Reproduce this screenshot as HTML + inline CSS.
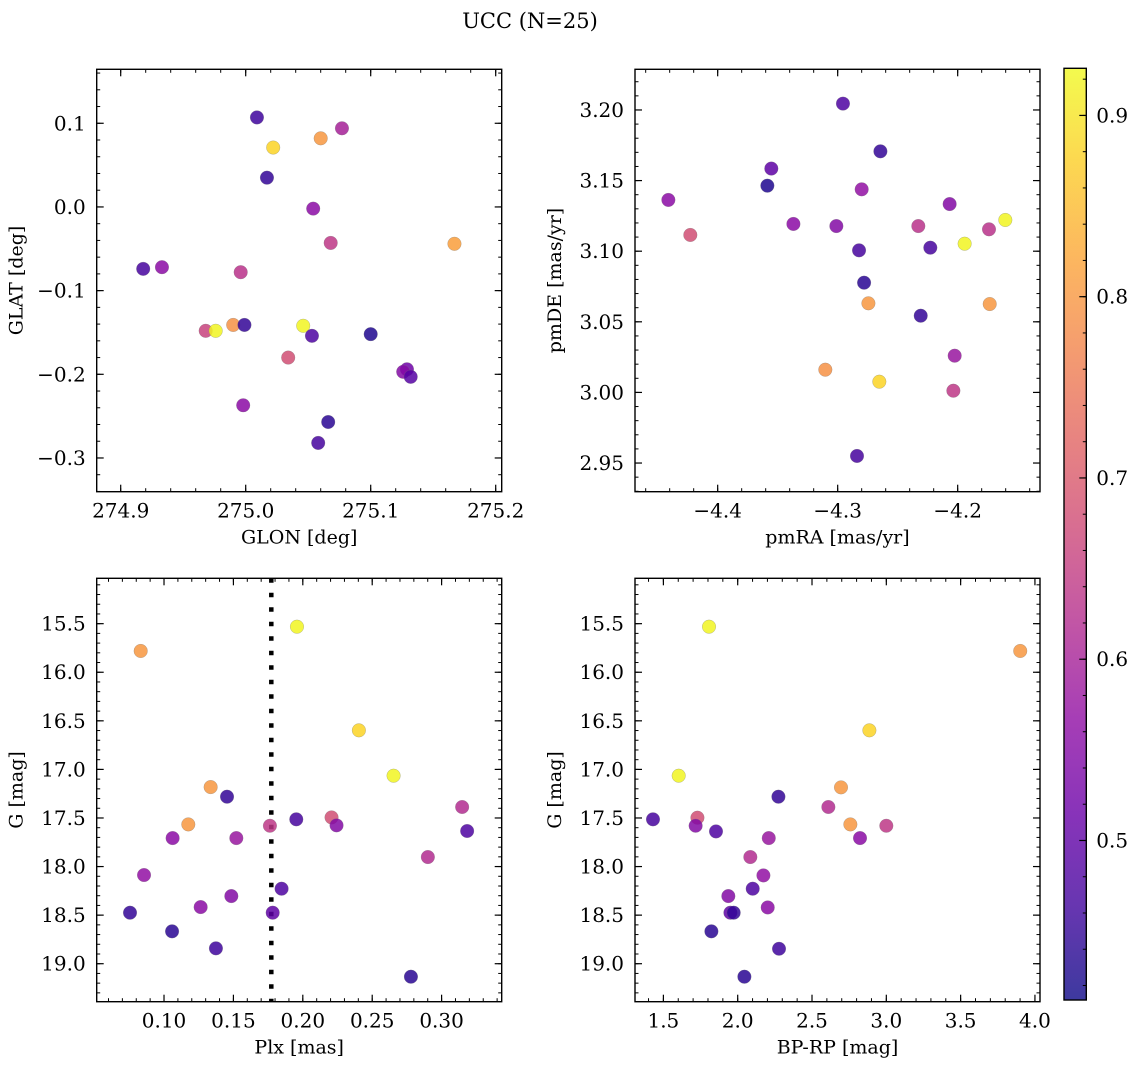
<!DOCTYPE html>
<html><head><meta charset="utf-8">
<style>
html,body{margin:0;padding:0;background:#fff;}
svg text{font-family:"DejaVu Serif","Liberation Serif",serif;fill:#000;}
</style></head>
<body>
<svg id="fig" xmlns="http://www.w3.org/2000/svg" width="1136" height="1068" viewBox="0 0 1136 1068">
<defs>
<linearGradient id="cbgrad" x1="0" y1="1" x2="0" y2="0"></linearGradient>
</defs>
<text x="530" y="28" text-anchor="middle" font-size="21">UCC (N=25)</text>
</svg>
<script>
// ---- data: panel 1 (GLON vs GLAT)
const glon = [275.009,275.022,275.060,275.077,275.017,275.054,275.068,275.167,274.918,274.933,274.996,274.968,274.976,274.990,274.999,275.046,275.053,275.100,275.034,275.129,275.126,275.132,274.998,275.066,275.058];
const glat = [0.107,0.071,0.082,0.094,0.035,-0.002,-0.043,-0.044,-0.074,-0.072,-0.078,-0.148,-0.148,-0.141,-0.141,-0.142,-0.154,-0.152,-0.180,-0.194,-0.197,-0.203,-0.237,-0.257,-0.282];
const prob1 = [0.46,0.88,0.80,0.60,0.45,0.56,0.64,0.81,0.47,0.56,0.63,0.66,0.92,0.79,0.45,0.92,0.48,0.43,0.68,0.52,0.55,0.49,0.56,0.44,0.47];
// ---- data: panel 2 (pmRA vs pmDE)
const pmra = [-4.2956,-4.2644,-4.3553,-4.3586,-4.4411,-4.4228,-4.3369,-4.3011,-4.2800,-4.2822,-4.2780,-4.2744,-4.2067,-4.2328,-4.2228,-4.1942,-4.1739,-4.1603,-4.1733,-4.2308,-4.3103,-4.2653,-4.2025,-4.2036,-4.2839];
const pmde = [3.2045,3.1707,3.1585,3.1464,3.1363,3.1115,3.1193,3.1178,3.1438,3.1006,3.0777,3.0631,3.1334,3.1178,3.1025,3.1053,3.1155,3.1221,3.0626,3.0543,3.0161,3.0076,3.0260,3.0012,2.9550];
const prob2 = [0.48,0.45,0.50,0.43,0.56,0.68,0.56,0.55,0.57,0.47,0.44,0.80,0.55,0.63,0.47,0.92,0.63,0.92,0.80,0.45,0.79,0.88,0.58,0.64,0.47];
// ---- data: panel 3 (Plx vs G)
const plx = [0.0832,0.1958,0.2404,0.2654,0.1336,0.1454,0.1175,0.1062,0.1521,0.1763,0.1953,0.2207,0.2243,0.3148,0.3184,0.2901,0.0856,0.1847,0.1485,0.1264,0.0755,0.1783,0.1058,0.1374,0.2779];
const gmag3 = [15.781,15.531,16.598,17.065,17.182,17.281,17.566,17.707,17.707,17.580,17.514,17.494,17.576,17.387,17.634,17.902,18.087,18.228,18.304,18.417,18.475,18.475,18.667,18.842,19.134];
const prob3 = [0.80,0.92,0.88,0.92,0.80,0.45,0.80,0.56,0.58,0.64,0.47,0.68,0.55,0.62,0.48,0.62,0.57,0.48,0.55,0.56,0.45,0.50,0.44,0.46,0.44];
const plxCut = [0.1773];
// ---- data: panel 4 (BP-RP vs G)
const bprp = [1.807,3.901,2.886,1.603,2.695,2.274,2.610,1.430,1.729,1.717,1.854,2.758,3.000,2.823,2.209,2.085,2.173,2.101,1.937,2.202,1.951,1.973,1.823,2.278,2.045];
const gmag4 = [15.531,15.781,16.598,17.065,17.185,17.281,17.387,17.514,17.497,17.580,17.638,17.566,17.580,17.707,17.707,17.902,18.091,18.228,18.304,18.421,18.475,18.475,18.667,18.846,19.134];
const prob4 = [0.92,0.80,0.88,0.92,0.80,0.45,0.62,0.47,0.68,0.55,0.48,0.80,0.64,0.56,0.58,0.62,0.57,0.48,0.55,0.56,0.50,0.45,0.44,0.46,0.44];
// ---- tick labels
const ticks1x = [274.9,275.0,275.1,275.2], ticks1xLab = ["274.9","275.0","275.1","275.2"];
const ticks1y = [0.1,0.0,-0.1,-0.2,-0.3], ticks1yLab = ["0.1","0.0","\u22120.1","\u22120.2","\u22120.3"];
const ticks2x = [-4.4,-4.3,-4.2], ticks2xLab = ["\u22124.4","\u22124.3","\u22124.2"];
const ticks2y = [3.20,3.15,3.10,3.05,3.00,2.95], ticks2yLab = ["3.20","3.15","3.10","3.05","3.00","2.95"];
const ticks3x = [0.10,0.15,0.20,0.25,0.30], ticks3xLab = ["0.10","0.15","0.20","0.25","0.30"];
const ticksGy = [15.5,16.0,16.5,17.0,17.5,18.0,18.5,19.0], ticksGyLab = ["15.5","16.0","16.5","17.0","17.5","18.0","18.5","19.0"];
const ticks4x = [1.5,2.0,2.5,3.0,3.5,4.0], ticks4xLab = ["1.5","2.0","2.5","3.0","3.5","4.0"];
const cbTicks = [0.5,0.6,0.7,0.8,0.9], cbTickLab = ["0.5","0.6","0.7","0.8","0.9"];
const cbRange = [0.412,0.926];

const NS = "http://www.w3.org/2000/svg";
const svg = document.getElementById('fig');
const plasma = ["#0d0887","#41049d","#6a00a8","#8f0da4","#b12a90","#cc4778","#e16462","#f2844b","#fca636","#fcce25","#f0f921"];
function hex(c){return [parseInt(c.substr(1,2),16),parseInt(c.substr(3,2),16),parseInt(c.substr(5,2),16)];}
function cmap(t){t=Math.max(0,Math.min(1,t));const f=t*10;const i=Math.min(9,Math.floor(f));const u=f-i;const a=hex(plasma[i]),b=hex(plasma[i+1]);
  return "rgb("+a.map((v,k)=>Math.round(v+(b[k]-v)*u)).join(",")+")";}
function colorOf(p){return cmap((p-cbRange[0])/(cbRange[1]-cbRange[0]));}
function mk(tag,attrs,parent){const e=document.createElementNS(NS,tag);for(const k in attrs)e.setAttribute(k,attrs[k]);(parent||svg).appendChild(e);return e;}

const TICKFS = 20, LABFS = 19;
function panel(o){
  const g=mk('g',{});
  
  
  const L=o.box[0],T=o.box[1],R=o.box[2],B=o.box[3];
  const sx=v=>L+(v-o.xr[0])/(o.xr[1]-o.xr[0])*(R-L);
  const sy=o.yinv? (v=>T+(v-o.yr[0])/(o.yr[1]-o.yr[0])*(B-T)) : (v=>B-(v-o.yr[0])/(o.yr[1]-o.yr[0])*(B-T));
  const eps=1e-9;
  function range(a,b,step){const out=[];let s=Math.ceil((Math.min(a,b)-eps)/step);for(let v=s*step;v<=Math.max(a,b)+eps;v=(++s)*step)out.push(v);return out;}
  range(o.xr[0],o.xr[1],o.xminor).forEach(v=>{const x=sx(v);
    mk('line',{x1:x,y1:B,x2:x,y2:B-3.5,stroke:'#000','stroke-width':1},g);
    mk('line',{x1:x,y1:T,x2:x,y2:T+3.5,stroke:'#000','stroke-width':1},g);});
  range(o.yr[0],o.yr[1],o.yminor).forEach(v=>{const y=sy(v);
    mk('line',{x1:L,y1:y,x2:L+3.5,y2:y,stroke:'#000','stroke-width':1},g);
    mk('line',{x1:R,y1:y,x2:R-3.5,y2:y,stroke:'#000','stroke-width':1},g);});
  o.xt.forEach((v,i)=>{const x=sx(v);
    mk('line',{x1:x,y1:B,x2:x,y2:B-7,stroke:'#000','stroke-width':1.2},g);
    mk('line',{x1:x,y1:T,x2:x,y2:T+7,stroke:'#000','stroke-width':1.2},g);
    const t=mk('text',{x:x,y:B+26,'text-anchor':'middle','font-size':TICKFS},g);t.textContent=o.xl[i];
    
    });
  o.yt.forEach((v,i)=>{const y=sy(v);
    mk('line',{x1:L,y1:y,x2:L+7,y2:y,stroke:'#000','stroke-width':1.2},g);
    mk('line',{x1:R,y1:y,x2:R-7,y2:y,stroke:'#000','stroke-width':1.2},g);
    const t=mk('text',{x:L-11,y:y+7,'text-anchor':'end','font-size':TICKFS},g);t.textContent=o.yl[i];
    
    });
  if(o.vline){o.vline.forEach(v=>{const x=sx(v);
    const ln=mk('line',{x1:x,y1:T,x2:x,y2:B,stroke:'#000','stroke-width':4.5,'stroke-dasharray':'4.5,10'},g);
    
    });}
  o.xs.forEach((v,i)=>{
    const c=mk('circle',{cx:sx(v),cy:sy(o.ys[i]),r:6.8,fill:colorOf(o.cs[i]),'fill-opacity':0.85,stroke:'#777','stroke-opacity':0.5,'stroke-width':0.5},g);
    
    });
  const fr=mk('rect',{x:L,y:T,width:R-L,height:B-T,fill:'none',stroke:'#000','stroke-width':1.4},g);
  
  
  const xlab=mk('text',{x:(L+R)/2,y:B+52,'text-anchor':'middle','font-size':LABFS},g);xlab.textContent=o.xlabel;
  
  
  const yx=L-74,yy=(T+B)/2;
  const ylab=mk('text',{x:yx,y:yy,'text-anchor':'middle','font-size':LABFS,transform:'rotate(-90 '+yx+' '+yy+')'},g);ylab.textContent=o.ylabel;
  
  
}

panel({name:'glon-glat-panel',box:[96.7,69.3,501.7,491.7],xr:[274.8808,275.2048],yr:[-0.3403,0.1645],xt:ticks1x,xl:ticks1xLab,yt:ticks1y,yl:ticks1yLab,xminor:0.02,yminor:0.02,xs:glon,ys:glat,cs:prob1,xlabel:'GLON [deg]',ylabel:'GLAT [deg]'});
panel({name:'pm-panel',box:[635,69.3,1040,491.7],xr:[-4.4689,-4.1314],yr:[2.9297,3.2288],xt:ticks2x,xl:ticks2xLab,yt:ticks2y,yl:ticks2yLab,xminor:0.02,yminor:0.01,xs:pmra,ys:pmde,cs:prob2,xlabel:'pmRA [mas/yr]',ylabel:'pmDE [mas/yr]'});
panel({name:'plx-g-panel',box:[96.7,578.3,501.7,1001.7],xr:[0.0515,0.3433],yr:[15.033,19.391],yinv:true,xt:ticks3x,xl:ticks3xLab,yt:ticksGy,yl:ticksGyLab,xminor:0.01,yminor:0.1,xs:plx,ys:gmag3,cs:prob3,vline:plxCut,xlabel:'Plx [mas]',ylabel:'G [mag]'});
panel({name:'cmd-panel',box:[635,578.3,1040,1001.7],xr:[1.309,4.034],yr:[15.033,19.391],yinv:true,xt:ticks4x,xl:ticks4xLab,yt:ticksGy,yl:ticksGyLab,xminor:0.1,yminor:0.1,xs:bprp,ys:gmag4,cs:prob4,xlabel:'BP-RP [mag]',ylabel:'G [mag]'});

// colorbar
const grad=document.getElementById('cbgrad');
for(let i=0;i<=20;i++){mk('stop',{offset:(i/20),'stop-color':cmap(i/20)},grad);}
const cb={L:1064,T:68.3,R:1086.3,B:1000};
const cbg=mk('g',{});


mk('rect',{x:cb.L,y:cb.T,width:cb.R-cb.L,height:cb.B-cb.T,fill:'url(#cbgrad)','fill-opacity':0.8},cbg);
const cy=v=>cb.B-(v-cbRange[0])/(cbRange[1]-cbRange[0])*(cb.B-cb.T);
for(let k=Math.ceil(cbRange[0]/0.02);k*0.02<=cbRange[1];k++){const y=cy(k*0.02);mk('line',{x1:cb.R,y1:y,x2:cb.R-3.5,y2:y,stroke:'#000','stroke-width':1},cbg);}
cbTicks.forEach((v,i)=>{const y=cy(v);mk('line',{x1:cb.R,y1:y,x2:cb.R-7,y2:y,stroke:'#000','stroke-width':1.2},cbg);
  const t=mk('text',{x:cb.R+10,y:y+7,'font-size':TICKFS},cbg);t.textContent=cbTickLab[i];
  
  });
mk('rect',{x:cb.L,y:cb.T,width:cb.R-cb.L,height:cb.B-cb.T,fill:'none',stroke:'#000','stroke-width':1.4},cbg);
</script>
</body></html>
